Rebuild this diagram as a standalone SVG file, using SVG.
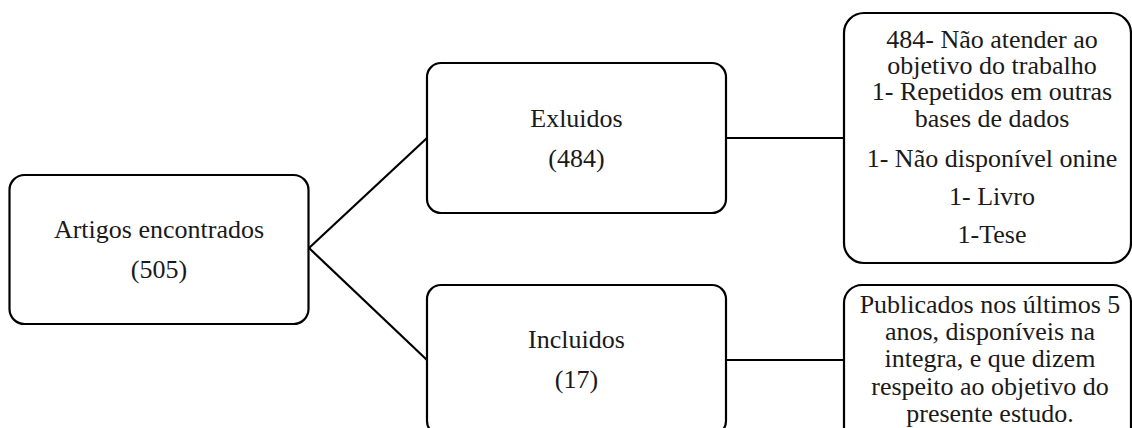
<svg xmlns="http://www.w3.org/2000/svg" width="1132" height="428" viewBox="0 0 1132 428">
<style>
.box{fill:#fff;stroke:#000;stroke-width:2.2}
.t{font-family:"Liberation Serif","Times New Roman",serif;font-size:26px;fill:#1a1a1a;text-anchor:middle}
.c{stroke:#000;stroke-width:2.2;fill:none}
</style>
<rect width="1132" height="428" fill="#fff"/>
<g id="connectors">
<path class="c" d="M309 248 L427 138"/>
<path class="c" d="M309 248 L427 360"/>
<path class="c" d="M726 138 L844 138"/>
<path class="c" d="M726 360 L844 360"/>
</g>
<g id="artigos">
<rect class="box" x="9.5" y="175" width="299" height="149" rx="15"/>
<text class="t" x="159" y="238">Artigos encontrados</text>
<text class="t" x="159" y="278">(505)</text>
</g>
<g id="exluidos">
<rect class="box" x="427" y="63" width="299" height="150" rx="14"/>
<text class="t" x="576.5" y="127">Exluidos</text>
<text class="t" x="576.5" y="167">(484)</text>
</g>
<g id="incluidos">
<rect class="box" x="427" y="285" width="299" height="150" rx="14"/>
<text class="t" x="576.5" y="348">Incluidos</text>
<text class="t" x="576.5" y="388">(17)</text>
</g>
<g id="motivos">
<rect class="box" x="844" y="13" width="287" height="250" rx="20"/>
<text class="t" x="992" y="48">484- Não atender ao</text>
<text class="t" x="992" y="74">objetivo do trabalho</text>
<text class="t" x="992" y="100">1- Repetidos em outras</text>
<text class="t" x="992" y="127">bases de dados</text>
<text class="t" x="992" y="167">1- Não disponível onine</text>
<text class="t" x="992" y="205">1- Livro</text>
<text class="t" x="992" y="243">1-Tese</text>
</g>
<g id="criterios">
<rect class="box" x="844" y="285" width="287" height="160" rx="18"/>
<text class="t" x="990" y="313">Publicados nos últimos 5</text>
<text class="t" x="990" y="340">anos, disponíveis na</text>
<text class="t" x="990" y="367">integra, e que dizem</text>
<text class="t" x="990" y="395">respeito ao objetivo do</text>
<text class="t" x="990" y="422">presente estudo.</text>
</g>
</svg>
